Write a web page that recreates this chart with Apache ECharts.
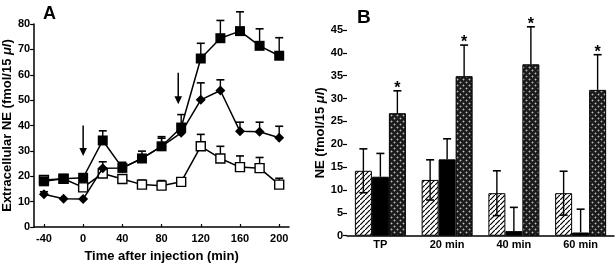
<!DOCTYPE html>
<html>
<head>
<meta charset="utf-8">
<script src="https://cdn.jsdelivr.net/npm/echarts@6/dist/echarts.min.js"></script>
<style>
html,body{margin:0;padding:0;background:#fff;}
#c{width:616px;height:268px;}
</style>
</head>
<body>
<div id="c"></div>
<script>
// ---------- Panel A data ----------
const times = [-40, -20, 0, 20, 40, 60, 80, 100, 120, 140, 160, 180, 200];
const filledMean = [18, 19, 19.4, 34.1, 23.3, 27, 31.8, 39.2, 66.4, 74.4, 77.2, 71.4, 67.5];
const filledErr  = [2, 1, 1.3, 3.8, 2.2, 2.9, 3.8, 5.1, 6, 7, 7.6, 6.7, 7.1];
const diamondMean = [12.9, 11.1, 11, 23.2, 23.3, 27, 31.8, 37.1, 50.1, 53.8, 37.7, 37.5, 35.2];
const diamondErr  = [1, 0, 0, 2.5, 1.5, 1.5, 3.2, 3, 6.7, 4.2, 3.6, 3.8, 4.5];
const openMean = [18.5, 19, 15.6, 21.1, 18.9, 16.7, 16.3, 17.8, 31.8, 27, 23.6, 23.2, 16.7];
const openErr  = [1, 1, 1, 2, 1, 1.8, 2, 1, 4.7, 4.8, 4.4, 4.2, 2.5];
const xTicksA = [-40, 0, 40, 80, 120, 160, 200];
// arrows: [x, yStart, yEnd]
const arrowX = [0, 97];
const arrowTop = [40, 60.8];
const arrowBottom = [28, 48.4];

// ---------- Panel B data ----------
const cats = ['TP', '20 min', '40 min', '60 min'];
const hatched = [14.2, 12.2, 9.3, 9.3];
const hatchedErr = [4.8, 4.4, 4.9, 4.8];
const black = [12.9, 16.7, 1.0, 0.7];
const blackErr = [5.1, 4.5, 5.2, 5.1];
const dotted = [26.8, 34.9, 37.5, 31.9];
const dottedErr = [4.9, 6.8, 8.2, 7.7];
const stars = ['*', '*', '*', '*'];

// ---------- patterns ----------
function hatchPattern() {
  const s = 5;
  const c = document.createElement('canvas'); c.width = s; c.height = s;
  const g = c.getContext('2d');
  g.fillStyle = '#fff'; g.fillRect(0, 0, s, s);
  g.strokeStyle = '#000'; g.lineWidth = 1.2;
  g.beginPath();
  g.moveTo(-1, s + 1); g.lineTo(s + 1, -1);
  g.moveTo(-1 - s, s + 1 - s); g.lineTo(s + 1 - s, -1 - s);
  g.moveTo(-1 + s, s + 1 + s); g.lineTo(s + 1 + s, -1 + s);
  g.stroke();
  return c;
}
function dotPattern() {
  const s = 6;
  const c = document.createElement('canvas'); c.width = s; c.height = s;
  const g = c.getContext('2d');
  g.fillStyle = '#1c1c1c'; g.fillRect(0, 0, s, s);
  g.fillStyle = '#bdbdbd';
  g.fillRect(1, 1, 1, 1); g.fillRect(4, 4, 1, 1);
  g.fillStyle = '#5a5a5a';
  g.fillRect(0, 1, 1, 1); g.fillRect(2, 1, 1, 1); g.fillRect(1, 0, 1, 1); g.fillRect(1, 2, 1, 1);
  g.fillRect(3, 4, 1, 1); g.fillRect(5, 4, 1, 1); g.fillRect(4, 3, 1, 1); g.fillRect(4, 5, 1, 1);
  return c;
}

const FONT = 'Liberation Sans, Arial, sans-serif';
const BAR_W = 17;

function errSeriesA(means, errs, z) {
  return {
    type: 'custom', xAxisIndex: 0, yAxisIndex: 0, z: z, silent: true,
    data: times.map((t, i) => [t, means[i], errs[i]]),
    renderItem: function (params, api) {
      const x = api.value(0), y = api.value(1), e = api.value(2);
      if (!e) return null;
      const p0 = api.coord([x, y]);
      const p1 = api.coord([x, y + e]);
      const hw = 4;
      return {
        type: 'group',
        children: [
          { type: 'line', shape: { x1: p0[0], y1: p0[1], x2: p1[0], y2: p1[1] }, style: { stroke: '#000', lineWidth: 1.4 } },
          { type: 'line', shape: { x1: p1[0] - hw, y1: p1[1], x2: p1[0] + hw, y2: p1[1] }, style: { stroke: '#000', lineWidth: 1.6 } }
        ]
      };
    }
  };
}

function errSeriesB(means, errs, slot, both, starLabels) {
  return {
    type: 'custom', xAxisIndex: 1, yAxisIndex: 1, z: 5, silent: true, clip: false,
    data: cats.map((c, i) => [i, means[i], errs[i], starLabels ? starLabels[i] : '']),
    renderItem: function (params, api) {
      const i = api.value(0), y = api.value(1), e = api.value(2);
      const off = (slot - 1) * BAR_W;
      const pm = api.coord([i, y]);
      const pt = api.coord([i, y + e]);
      const pb = api.coord([i, Math.max(y - e, 0)]);
      const x = pm[0] + off;
      const hw = 4;
      const ch = [
        { type: 'line', shape: { x1: x, y1: pm[1], x2: x, y2: pt[1] }, style: { stroke: '#000', lineWidth: 1.4 } },
        { type: 'line', shape: { x1: x - hw, y1: pt[1], x2: x + hw, y2: pt[1] }, style: { stroke: '#000', lineWidth: 1.6 } }
      ];
      if (both) {
        ch.push({ type: 'line', shape: { x1: x, y1: pm[1], x2: x, y2: pb[1] }, style: { stroke: '#000', lineWidth: 1.4 } });
        ch.push({ type: 'line', shape: { x1: x - hw, y1: pb[1], x2: x + hw, y2: pb[1] }, style: { stroke: '#000', lineWidth: 1.6 } });
      }
      const s = api.value(3);
      if (s) {
        ch.push({ type: 'text', x: x, y: pt[1] + 6, style: { text: s, fill: '#000', font: 'bold 16px ' + FONT, textAlign: 'center', textVerticalAlign: 'bottom' } });
      }
      return { type: 'group', children: ch };
    }
  };
}

const chart = echarts.init(document.getElementById('c'), null, { renderer: 'canvas' });

const axisStyle = { onZero: false, lineStyle: { color: '#000', width: 1.5 } };
const labelStyle = { color: '#000', fontFamily: FONT, fontWeight: 'bold', fontSize: 11 };

const option = {
  animation: false,
  backgroundColor: '#fff',
  title: [
    { text: 'A', left: 38, top: 0, textStyle: { fontFamily: FONT, fontWeight: 'bold', fontSize: 18, color: '#000' } },
    { text: 'B', left: 352, top: 3, textStyle: { fontFamily: FONT, fontWeight: 'bold', fontSize: 19, color: '#000' } }
  ],
  grid: [
    { left: 34, top: 24, width: 255, height: 211.7 },
    { left: 347, top: 30, width: 267, height: 205.7 }
  ],
  xAxis: [
    {
      gridIndex: 0, type: 'value', min: -50, max: 210,
      axisLine: axisStyle,
      axisTick: { show: true, inside: true, length: 3, lineStyle: { color: '#000', width: 1.2 }, customValues: xTicksA },
      axisLabel: Object.assign({ margin: 6, customValues: xTicksA }, labelStyle),
      splitLine: { show: false },
      name: 'Time after injection (min)', nameLocation: 'middle', nameGap: 23,
      nameTextStyle: { color: '#000', fontFamily: FONT, fontWeight: 'bold', fontSize: 13 }
    },
    {
      gridIndex: 1, type: 'category', data: cats,
      axisLine: axisStyle,
      axisTick: { show: false },
      axisLabel: Object.assign({ margin: 4 }, labelStyle),
      splitLine: { show: false }
    }
  ],
  yAxis: [
    {
      gridIndex: 0, type: 'value', min: 0, max: 80, interval: 10,
      axisLine: axisStyle,
      axisTick: { show: true, length: 4, lineStyle: { color: '#000', width: 1.2 } },
      axisLabel: Object.assign({ margin: 4 }, labelStyle),
      splitLine: { show: false },
      name: 'Extracellular NE (fmol/15 {i|μl})', nameLocation: 'middle', nameGap: 20,
      nameTextStyle: { color: '#000', fontFamily: FONT, fontWeight: 'bold', fontSize: 13,
        rich: { i: { fontFamily: FONT, fontWeight: 'bold', fontStyle: 'italic', fontSize: 13, color: '#000' } } }
    },
    {
      gridIndex: 1, type: 'value', min: 0, max: 45, interval: 5,
      axisLine: axisStyle,
      axisTick: { show: true, length: 4, lineStyle: { color: '#000', width: 1.2 } },
      axisLabel: Object.assign({ margin: 4 }, labelStyle),
      splitLine: { show: false },
      name: 'NE (fmol/15 {i|μl})', nameLocation: 'middle', nameGap: 19,
      nameTextStyle: { color: '#000', fontFamily: FONT, fontWeight: 'bold', fontSize: 13,
        rich: { i: { fontFamily: FONT, fontWeight: 'bold', fontStyle: 'italic', fontSize: 13, color: '#000' } } }
    }
  ],
  series: [
    errSeriesA(openMean, openErr, 1),
    errSeriesA(diamondMean, diamondErr, 1),
    errSeriesA(filledMean, filledErr, 1),
    {
      type: 'line', xAxisIndex: 0, yAxisIndex: 0, z: 2,
      data: times.map((t, i) => [t, openMean[i]]),
      symbol: 'rect', symbolSize: 9,
      lineStyle: { color: '#000', width: 1.5 },
      itemStyle: { color: '#fff', borderColor: '#000', borderWidth: 1.4 }
    },
    {
      type: 'line', xAxisIndex: 0, yAxisIndex: 0, z: 3,
      data: times.map((t, i) => [t, diamondMean[i]]),
      symbol: 'diamond', symbolSize: [10, 10],
      lineStyle: { color: '#000', width: 1.5 },
      itemStyle: { color: '#000', borderColor: '#000', borderWidth: 0 }
    },
    {
      type: 'line', xAxisIndex: 0, yAxisIndex: 0, z: 4,
      data: times.map((t, i) => [t, filledMean[i]]),
      symbol: 'rect', symbolSize: 10,
      lineStyle: { color: '#000', width: 1.5 },
      itemStyle: { color: '#000', borderColor: '#000', borderWidth: 0 }
    },
    {
      type: 'custom', xAxisIndex: 0, yAxisIndex: 0, z: 5, silent: true,
      data: arrowX.map((x, i) => [x, arrowTop[i], arrowBottom[i]]),
      renderItem: function (params, api) {
        const pT = api.coord([api.value(0), api.value(1)]);
        const pB = api.coord([api.value(0), api.value(2)]);
        const hh = 8, hw = 3.8;
        return {
          type: 'group',
          children: [
            { type: 'line', shape: { x1: pT[0], y1: pT[1], x2: pB[0], y2: pB[1] - hh + 1 }, style: { stroke: '#000', lineWidth: 1.5 } },
            { type: 'polygon', shape: { points: [[pB[0] - hw, pB[1] - hh], [pB[0] + hw, pB[1] - hh], [pB[0], pB[1]]] }, style: { fill: '#000' } }
          ]
        };
      }
    },
    {
      type: 'bar', xAxisIndex: 1, yAxisIndex: 1, data: hatched, barWidth: BAR_W, barGap: '0%',
      itemStyle: { color: { image: hatchPattern(), repeat: 'repeat' }, borderColor: '#000', borderWidth: 1 }
    },
    {
      type: 'bar', xAxisIndex: 1, yAxisIndex: 1, data: black, barWidth: BAR_W, barGap: '0%',
      itemStyle: { color: '#000', borderColor: '#000', borderWidth: 1 }
    },
    {
      type: 'bar', xAxisIndex: 1, yAxisIndex: 1, data: dotted, barWidth: BAR_W, barGap: '0%',
      itemStyle: { color: { image: dotPattern(), repeat: 'repeat' }, borderColor: '#000', borderWidth: 1 }
    },
    errSeriesB(hatched, hatchedErr, 0, true, null),
    errSeriesB(black, blackErr, 1, false, null),
    errSeriesB(dotted, dottedErr, 2, false, stars)
  ]
};
chart.setOption(option);
</script>
</body>
</html>
